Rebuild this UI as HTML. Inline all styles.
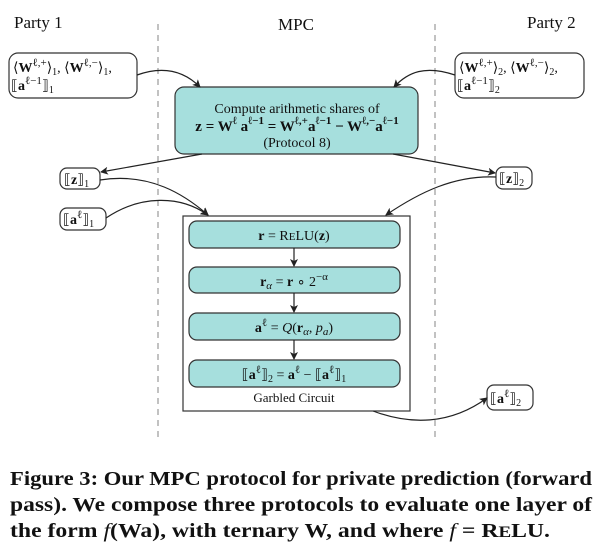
<!DOCTYPE html>
<html><head><meta charset="utf-8"><style>
html,body{margin:0;padding:0;background:#fff;}
svg{display:block;}
text{font-family:"Liberation Serif",serif;fill:#111;}
</style></head><body>
<svg width="602" height="546" viewBox="0 0 602 546" xmlns="http://www.w3.org/2000/svg">
<defs><marker id="ar" markerWidth="8" markerHeight="8" refX="7" refY="4" orient="auto" markerUnits="userSpaceOnUse"><path d="M0,0 L8,4 L0,8 L2,4 Z" fill="#222"/></marker></defs>
<line x1="158" y1="24" x2="158" y2="440" stroke="#999" stroke-width="1.2" stroke-dasharray="6,5"/>
<line x1="435" y1="24" x2="435" y2="440" stroke="#999" stroke-width="1.2" stroke-dasharray="6,5"/>
<text x="14" y="28" font-size="17">Party 1</text>
<text x="278" y="30" font-size="17">MPC</text>
<text x="527" y="28" font-size="17">Party 2</text>

<rect x="9" y="53" width="128" height="45" rx="9" fill="#fff" stroke="#333" stroke-width="1.2"/>
<text x="13" y="72" font-size="14">⟨<tspan font-weight="bold">W</tspan><tspan font-size="11" dy="-6">ℓ,+</tspan><tspan dy="6">⟩</tspan><tspan font-size="10" dy="3">1</tspan><tspan dy="-3">, ⟨</tspan><tspan font-weight="bold">W</tspan><tspan font-size="11" dy="-6">ℓ,−</tspan><tspan dy="6">⟩</tspan><tspan font-size="10" dy="3">1</tspan><tspan dy="-3">,</tspan></text>
<text x="11" y="90" font-size="14">⟦<tspan font-weight="bold">a</tspan><tspan font-size="11" dy="-6">ℓ−1</tspan><tspan dy="6">⟧</tspan><tspan font-size="10" dy="3">1</tspan></text>

<rect x="455" y="53" width="129" height="45" rx="9" fill="#fff" stroke="#333" stroke-width="1.2"/>
<text x="459" y="72" font-size="14">⟨<tspan font-weight="bold">W</tspan><tspan font-size="11" dy="-6">ℓ,+</tspan><tspan dy="6">⟩</tspan><tspan font-size="10" dy="3">2</tspan><tspan dy="-3">, ⟨</tspan><tspan font-weight="bold">W</tspan><tspan font-size="11" dy="-6">ℓ,−</tspan><tspan dy="6">⟩</tspan><tspan font-size="10" dy="3">2</tspan><tspan dy="-3">,</tspan></text>
<text x="457" y="90" font-size="14">⟦<tspan font-weight="bold">a</tspan><tspan font-size="11" dy="-6">ℓ−1</tspan><tspan dy="6">⟧</tspan><tspan font-size="10" dy="3">2</tspan></text>

<rect x="175" y="87" width="243" height="67" rx="9" fill="#a6dfdd" stroke="#333" stroke-width="1.2"/>
<text x="297" y="113" font-size="14" text-anchor="middle">Compute arithmetic shares of</text>
<text x="297" y="131" font-size="15" text-anchor="middle" font-weight="bold">z = W<tspan font-size="11" dy="-7">ℓ</tspan><tspan dy="7"> a</tspan><tspan font-size="11" dy="-7">ℓ−1</tspan><tspan dy="7"> = W</tspan><tspan font-size="11" dy="-7">ℓ,+</tspan><tspan dy="7">a</tspan><tspan font-size="11" dy="-7">ℓ−1</tspan><tspan dy="7"> − W</tspan><tspan font-size="11" dy="-7">ℓ,−</tspan><tspan dy="7">a</tspan><tspan font-size="11" dy="-7">ℓ−1</tspan></text>
<text x="297" y="147" font-size="14" text-anchor="middle">(Protocol 8)</text>

<rect x="60" y="168" width="40" height="21" rx="7" fill="#fff" stroke="#333" stroke-width="1.2"/>
<text x="64" y="184" font-size="14">⟦<tspan font-weight="bold">z</tspan>⟧<tspan font-size="10" dy="3">1</tspan></text>
<rect x="496" y="167" width="36" height="22" rx="7" fill="#fff" stroke="#333" stroke-width="1.2"/>
<text x="499" y="183" font-size="14">⟦<tspan font-weight="bold">z</tspan>⟧<tspan font-size="10" dy="3">2</tspan></text>
<rect x="60" y="208" width="46" height="22" rx="7" fill="#fff" stroke="#333" stroke-width="1.2"/>
<text x="63" y="224" font-size="14">⟦<tspan font-weight="bold">a</tspan><tspan font-size="11" dy="-6">ℓ</tspan><tspan dy="6">⟧</tspan><tspan font-size="10" dy="3">1</tspan></text>

<rect x="183" y="216" width="227" height="195" fill="#fff" stroke="#333" stroke-width="1.2"/>
<rect x="189" y="221" width="211" height="27" rx="8" fill="#a6dfdd" stroke="#333" stroke-width="1.2"/>
<text x="294" y="240" font-size="14" text-anchor="middle"><tspan font-weight="bold">r</tspan> = R<tspan font-size="11">E</tspan>LU(<tspan font-weight="bold">z</tspan>)</text>
<rect x="189" y="267" width="211" height="26" rx="8" fill="#a6dfdd" stroke="#333" stroke-width="1.2"/>
<text x="294" y="286" font-size="14" text-anchor="middle"><tspan font-weight="bold">r</tspan><tspan font-size="11" dy="3" font-style="italic">α</tspan><tspan dy="-3"> = </tspan><tspan font-weight="bold">r</tspan> ∘ 2<tspan font-size="11" dy="-6">−α</tspan></text>
<rect x="189" y="313" width="211" height="27" rx="8" fill="#a6dfdd" stroke="#333" stroke-width="1.2"/>
<text x="294" y="332" font-size="14" text-anchor="middle"><tspan font-weight="bold">a</tspan><tspan font-size="11" dy="-6">ℓ</tspan><tspan dy="6"> = </tspan><tspan font-style="italic">Q</tspan>(<tspan font-weight="bold">r</tspan><tspan font-size="11" dy="3" font-style="italic">α</tspan><tspan dy="-3">, </tspan><tspan font-style="italic">p</tspan><tspan font-size="11" dy="3" font-style="italic">a</tspan><tspan dy="-3">)</tspan></text>
<rect x="189" y="360" width="211" height="27" rx="8" fill="#a6dfdd" stroke="#333" stroke-width="1.2"/>
<text x="294" y="379" font-size="14" text-anchor="middle">⟦<tspan font-weight="bold">a</tspan><tspan font-size="11" dy="-6">ℓ</tspan><tspan dy="6">⟧</tspan><tspan font-size="10" dy="3">2</tspan><tspan dy="-3"> = </tspan><tspan font-weight="bold">a</tspan><tspan font-size="11" dy="-6">ℓ</tspan><tspan dy="6"> − ⟦</tspan><tspan font-weight="bold">a</tspan><tspan font-size="11" dy="-6">ℓ</tspan><tspan dy="6">⟧</tspan><tspan font-size="10" dy="3">1</tspan></text>
<text x="294" y="402" font-size="13" text-anchor="middle">Garbled Circuit</text>

<rect x="487" y="385" width="46" height="25" rx="7" fill="#fff" stroke="#333" stroke-width="1.2"/>
<text x="490" y="403" font-size="14">⟦<tspan font-weight="bold">a</tspan><tspan font-size="11" dy="-6">ℓ</tspan><tspan dy="6">⟧</tspan><tspan font-size="10" dy="3">2</tspan></text>

<g fill="none" stroke="#222" stroke-width="1.2" marker-end="url(#ar)">
<path d="M137,75 C165,65 185,72 200,87"/>
<path d="M455,75 C425,65 408,72 394,87"/>
<path d="M202,154 L101,172"/>
<path d="M393,154 L495,173"/>
<path d="M100,180 C150,172 185,195 208,215"/>
<path d="M106,218 C140,195 180,195 208,215"/>
<path d="M496,177 C455,175 420,192 386,215"/>
<path d="M294,248 L294,266"/>
<path d="M294,293 L294,312"/>
<path d="M294,340 L294,359"/>
<path d="M373,411 C410,425 450,425 487,398"/>
</g>

<text x="10" y="485" font-size="20" font-weight="bold" textLength="582" lengthAdjust="spacingAndGlyphs">Figure 3: Our MPC protocol for private prediction (forward</text>
<text x="10" y="511" font-size="20" font-weight="bold" textLength="582" lengthAdjust="spacingAndGlyphs">pass). We compose three protocols to evaluate one layer of</text>
<text x="10" y="537" font-size="20" font-weight="bold" textLength="540" lengthAdjust="spacingAndGlyphs">the form <tspan font-style="italic" font-weight="normal">f</tspan>(Wa), with ternary W, and where <tspan font-style="italic" font-weight="normal">f</tspan> = R<tspan font-size="16">E</tspan>LU.</text>
</svg>
</body></html>
